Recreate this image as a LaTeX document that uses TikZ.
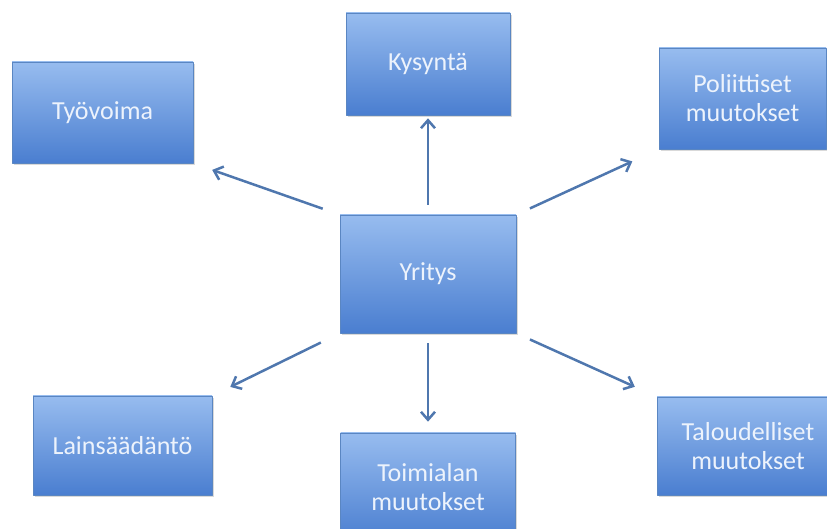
\documentclass[tikz,border=0pt]{standalone}
\usepackage{fontspec}
\setmainfont{Carlito}
\usetikzlibrary{arrows.meta,shadows}
\definecolor{boxtop}{HTML}{97BCEF}
\definecolor{boxbottom}{HTML}{4A7ED0}
\definecolor{boxline}{HTML}{5A86C2}
\definecolor{boxtext}{HTML}{EDF3FC}
\definecolor{arrowblue}{HTML}{4F77AE}
\begin{document}
\begin{tikzpicture}[>={Straight Barb[length=8bp,width=14bp]},line join=bevel,
  factor/.style={draw=boxline,line width=0.6bp,top color=boxtop,bottom color=boxbottom,
    drop shadow={shadow xshift=1.5bp,shadow yshift=-2.5bp,opacity=0.3},
    text=boxtext,align=center,inner sep=0pt,
    font=\fontsize{26bp}{29bp}\selectfont},
  link/.style={arrowblue,line width=2.5bp,->}]
\useasboundingbox (0bp,0bp) rectangle (827bp,529bp);
%%
\node (node_0) at (428.0bp,255.0bp) [factor,minimum width=176bp,minimum height=118bp] {Yritys};
  \node (node_1) at (102.5bp,416.5bp) [factor,minimum width=181bp,minimum height=101bp] {Työvoima};
  \node (node_2) at (428.0bp,465.0bp) [factor,minimum width=164bp,minimum height=102bp] {Kysyntä};
  \node (node_3) at (742.5bp,430.5bp) [factor,minimum width=167bp,minimum height=101bp] {Poliittiset\\muutokset};
  \node (node_4) at (122.5bp,83.5bp) [factor,minimum width=179bp,minimum height=99bp] {Lainsäädäntö};
  \node (node_5) at (428.0bp,42.0bp) [factor,minimum width=175bp,minimum height=108bp] {Toimialan\\muutokset};
  \node (node_6) at (748.0bp,83.0bp) [factor,minimum width=182bp,minimum height=98bp] {Taloudelliset\\muutokset};
  \draw [link,shorten <=18bp,shorten >=20bp] (node_0.north west) -- (node_1.south east);
  \draw [link,shorten <=10bp,shorten >=3bp] (node_0.north) -- (node_2.south);
  \draw [link,shorten <=15bp,shorten >=29bp] (node_0.north east) -- (node_3.south west);
  \draw [link,shorten <=21bp,shorten >=20bp] (node_0.south west) -- (node_4.north east);
  \draw [link,shorten <=10bp,shorten >=11bp] (node_0.south) -- (node_5.north);
  \draw [link,shorten <=15bp,shorten >=24bp] (node_0.south east) -- (node_6.north west);
%
\end{tikzpicture}
\end{document}
